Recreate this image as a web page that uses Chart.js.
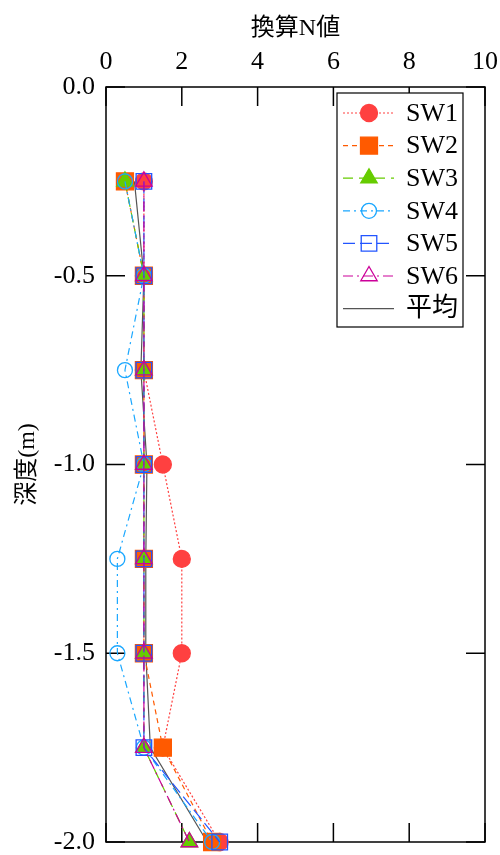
<!DOCTYPE html>
<html>
<head>
<meta charset="utf-8">
<script src="https://cdn.jsdelivr.net/npm/chart.js@4/dist/chart.umd.min.js"></script>
<style>
  body { margin: 0; background: #fff; }
  canvas { display: block; }
</style>
</head>
<body>
<canvas id="chart" width="500" height="855"></canvas>
<script>
// ----------------------
// DATA
// ----------------------
const depths = [-0.25, -0.5, -0.75, -1.0, -1.25, -1.5, -1.75, -2.0];
const sw1 = [1.0, 1.0, 1.0, 1.5, 2.0, 2.0, 1.5, 3.0];
const sw2 = [0.5, 1.0, 1.0, 1.0, 1.0, 1.0, 1.5, 2.8];
const sw3 = [0.5, 1.0, 1.0, 1.0, 1.0, 1.0, 1.0, 2.2];
const sw4 = [0.5, 1.0, 0.5, 1.0, 0.3, 0.3, 1.0, 2.8];
const sw5 = [1.0, 1.0, 1.0, 1.0, 1.0, 1.0, 1.0, 3.0];
const sw6 = [1.0, 1.0, 1.0, 1.0, 1.0, 1.0, 1.0, 2.2];
const average = [0.75, 1.0, 0.92, 1.08, 1.05, 1.05, 1.17, 2.67];

const xTicks = [0, 2, 4, 6, 8, 10];
const yTicks = [0.0, -0.5, -1.0, -1.5, -2.0];

const SERIF = "'Liberation Serif', 'Noto Sans CJK JP', serif";

const toPoints = vals => vals.map((v, i) => ({ x: v, y: depths[i] }));

function series(label, vals, color, dash, style, radius, fill, order) {
  return {
    label,
    data: toPoints(vals),
    showLine: true,
    borderColor: color,
    borderWidth: 1.2,
    borderDash: dash,
    pointStyle: style,
    pointRadius: radius,
    pointHoverRadius: radius,
    pointBorderColor: color,
    pointBackgroundColor: fill ? color : "rgba(0,0,0,0)",
    pointBorderWidth: 1.3,
    order,
    clip: false
  };
}

const datasets = [
  series("SW1", sw1, "#ff4040", [2, 2], "circle", 8.5, true, 6),
  series("SW2", sw2, "#ff5a00", [5, 4], "rect", 12, true, 5),
  series("SW3", sw3, "#66cc00", [10, 6], "triangle", 9.5, true, 4),
  series("SW4", sw4, "#1aa7ff", [7, 4, 2, 4], "circle", 7.5, false, 3),
  series("SW5", sw5, "#2255ff", [12, 5], "rect", 11, false, 2),
  series("SW6", sw6, "#cc0099", [10, 4, 2, 4], "triangle", 9.5, false, 1),
  series("平均", average, "#555555", [], "circle", 0, false, 7)
];

// ----------------------
// FRAME + INWARD TICKS
// ----------------------
const frameTicks = {
  id: "frameTicks",
  beforeDatasetsDraw(chart) {
    const { ctx, chartArea: a, scales } = chart;
    const len = 19;
    ctx.save();
    ctx.strokeStyle = "#000";
    ctx.lineWidth = 1.5;
    ctx.strokeRect(a.left, a.top, a.right - a.left, a.bottom - a.top);
    ctx.beginPath();
    xTicks.forEach(v => {
      const px = scales.x.getPixelForValue(v);
      ctx.moveTo(px, a.top); ctx.lineTo(px, a.top + len);
      ctx.moveTo(px, a.bottom); ctx.lineTo(px, a.bottom - len);
    });
    yTicks.forEach(v => {
      const py = scales.y.getPixelForValue(v);
      ctx.moveTo(a.left, py); ctx.lineTo(a.left + len, py);
      ctx.moveTo(a.right, py); ctx.lineTo(a.right - len, py);
    });
    ctx.stroke();
    ctx.restore();
  }
};

// ----------------------
// LEGEND (line + marker)
// ----------------------
const lineLegend = {
  id: "lineLegend",
  afterDraw(chart) {
    const { ctx } = chart;
    const box = { x: 337, y: 93, w: 126, h: 234 };
    const rowY0 = 113, rowStep = 32.6;
    ctx.save();
    ctx.fillStyle = "#fff";
    ctx.fillRect(box.x, box.y, box.w, box.h);
    ctx.strokeStyle = "#000";
    ctx.lineWidth = 1.2;
    ctx.strokeRect(box.x, box.y, box.w, box.h);

    datasets.forEach((ds, i) => {
      const y = rowY0 + i * rowStep;
      ctx.save();
      ctx.strokeStyle = ds.borderColor;
      ctx.lineWidth = ds.borderWidth;
      ctx.setLineDash(ds.borderDash);
      ctx.beginPath();
      ctx.moveTo(343, y);
      ctx.lineTo(394, y);
      ctx.stroke();
      ctx.restore();
      if (ds.pointRadius > 0) {
        ctx.save();
        ctx.fillStyle = ds.pointBackgroundColor;
        ctx.strokeStyle = ds.pointBorderColor;
        ctx.lineWidth = ds.pointBorderWidth;
        ctx.setLineDash([]);
        Chart.helpers.drawPoint(ctx, { pointStyle: ds.pointStyle, radius: ds.pointRadius, borderWidth: ds.pointBorderWidth }, 369, y);
        ctx.restore();
      }
      ctx.fillStyle = "#000";
      ctx.font = "26px " + SERIF;
      ctx.textBaseline = "middle";
      ctx.textAlign = "left";
      ctx.fillText(ds.label, 406, y + 1);
    });
    ctx.restore();
  }
};

// ----------------------
// CHART
// ----------------------
new Chart(document.getElementById("chart"), {
  type: "scatter",
  data: { datasets },
  options: {
    responsive: false,
    animation: false,
    layout: { autoPadding: false, padding: { top: 0, left: 0, right: 15, bottom: 13 } },
    plugins: { legend: { display: false }, tooltip: { enabled: false } },
    scales: {
      x: {
        type: "linear",
        position: "top",
        min: 0,
        max: 10,
        afterBuildTicks: s => { s.ticks = xTicks.map(v => ({ value: v })); },
        afterFit: s => { s.height = 87; s.paddingLeft = 0; s.paddingRight = 0; },
        grid: { display: false, drawTicks: false },
        border: { display: false },
        ticks: { color: "#000", font: { family: SERIF, size: 26 }, padding: 9, maxRotation: 0 },
        title: {
          display: true,
          text: "換算N値",
          color: "#000",
          font: { family: SERIF, size: 24 },
          padding: { top: 14, bottom: 0 }
        }
      },
      y: {
        type: "linear",
        min: -2,
        max: 0,
        afterBuildTicks: s => { s.ticks = yTicks.map(v => ({ value: v })); },
        afterFit: s => { s.width = 106; s.paddingTop = 0; s.paddingBottom = 0; },
        grid: { display: false, drawTicks: false },
        border: { display: false },
        ticks: {
          color: "#000",
          font: { family: SERIF, size: 26 },
          padding: 11,
          callback: v => Number(v).toFixed(1)
        },
        title: {
          display: true,
          text: "深度(m)",
          color: "#000",
          font: { family: SERIF, size: 24 },
          padding: { top: 13, bottom: 0 }
        }
      }
    }
  },
  plugins: [frameTicks, lineLegend]
});
</script>
</body>
</html>
